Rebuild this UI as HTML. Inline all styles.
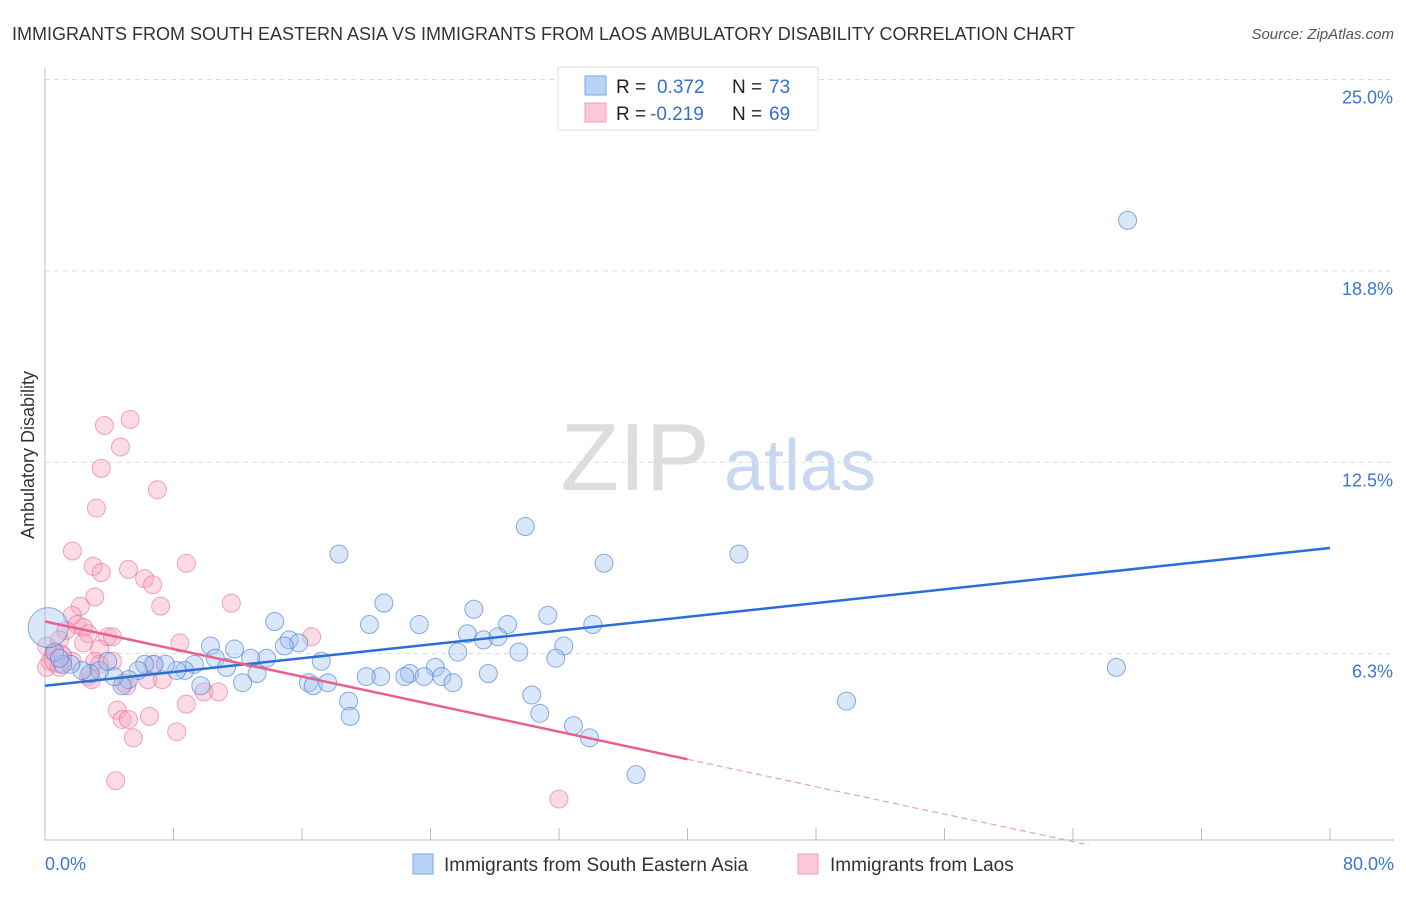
<!DOCTYPE html>
<html><head><meta charset="utf-8"><style>
body{margin:0;background:#fff;width:1406px;height:892px;overflow:hidden;font-family:"Liberation Sans",sans-serif}
svg text{font-family:"Liberation Sans",sans-serif}
</style></head><body>
<svg id="c" width="1406" height="892">
<text x="12" y="40" font-size="18" fill="#333">IMMIGRANTS FROM SOUTH EASTERN ASIA VS IMMIGRANTS FROM LAOS AMBULATORY DISABILITY CORRELATION CHART</text>
<text x="1394" y="39" font-size="15" fill="#555" font-style="italic" text-anchor="end">Source: ZipAtlas.com</text>
<text x="0" y="0" transform="translate(34,455) rotate(-90)" font-size="18" fill="#333" text-anchor="middle">Ambulatory Disability</text>
<g><text x="635" y="490" font-size="96" fill="#ddd" font-family="Liberation Serif" text-anchor="middle">ZIP</text><text x="800" y="490" font-size="72" fill="#c8d8f0" text-anchor="middle">atlas</text></g>
<g id="grid"></g><g id="axes"></g><g id="pts"></g><g id="lines"></g>
<g>
<rect x="558" y="67" width="260" height="63" fill="#fff" stroke="#ddd"/>
<rect x="585" y="76" width="21" height="19" fill="#b8d2f5" stroke="#7aa8e8"/>
<rect x="585" y="103" width="21" height="19" fill="#fcc8d8" stroke="#f0a0b8"/>
<text x="616" y="93" font-size="19" fill="#222">R = </text><text x="657" y="93" font-size="19" fill="#3370d0">0.372</text>
<text x="732" y="93" font-size="19" fill="#222">N = </text><text x="769" y="93" font-size="19" fill="#3370d0">73</text>
<text x="616" y="120" font-size="19" fill="#222">R = </text><text x="650" y="120" font-size="19" fill="#3370d0">-0.219</text>
<text x="732" y="120" font-size="19" fill="#222">N = </text><text x="769" y="120" font-size="19" fill="#3370d0">69</text>
</g>
<g>
<rect x="413" y="854" width="20" height="20" fill="#b8d2f5" stroke="#7aa8e8"/>
<text x="444" y="871" font-size="19" fill="#333">Immigrants from South Eastern Asia</text>
<rect x="798" y="854" width="20" height="20" fill="#fcc8d8" stroke="#f0a0b8"/>
<text x="830" y="871" font-size="19" fill="#333">Immigrants from Laos</text>
</g>
</svg>
<script>
const yTicks=[6.25,12.5,18.75,25.0];
const yTickLabels=["6.3%","12.5%","18.8%","25.0%"];
const xTicks=[0,8,16,24,32,40,48,56,64,72,80];
const blueX=[67.4,66.7,49.9,43.2,34.8,29.9,18.3,21.1,26.7,31.3,34.1,28.8,23.3,20.2,14.3,26.3,27.3,28.2,15.2,15.8,32.3,29.5,25.7,31.8,17.2,14.9,13.8,24.3,22.7,20.9,20.0,22.4,23.6,24.7,25.4,27.6,30.3,30.8,32.9,33.9,36.8,18.9,19.0,16.4,16.7,17.6,10.3,11.8,10.6,12.8,11.3,13.2,12.3,9.7,9.3,8.7,8.2,7.5,6.8,6.2,5.8,5.2,4.8,4.3,3.4,2.8,2.3,1.6,1.1,0.6,0.9,3.9,0.2];
const blueY=[20.4,5.8,4.7,9.5,9.2,10.4,9.5,7.9,7.7,7.5,7.2,7.2,7.2,7.2,7.3,6.9,6.7,6.8,6.7,6.6,6.5,6.3,6.3,6.1,6.0,6.5,6.1,5.8,5.6,5.5,5.5,5.5,5.5,5.5,5.3,5.6,4.9,4.3,3.9,3.5,2.3,4.7,4.2,5.3,5.2,5.3,6.5,6.4,6.1,6.1,5.8,5.6,5.3,5.2,5.9,5.7,5.7,5.9,5.9,5.9,5.7,5.4,5.2,5.5,5.7,5.6,5.7,5.9,5.9,6.3,6.1,6.0,7.1];
const pinkX=[5.3,3.7,4.7,3.5,7.0,3.2,1.7,3.0,3.5,5.2,6.2,6.7,8.8,3.1,2.2,7.2,11.6,1.7,2.0,2.4,1.3,3.9,4.2,2.7,8.4,16.6,3.4,2.4,0.9,0.6,0.3,0.1,1.1,3.1,4.2,1.7,0.9,4.9,2.7,3.4,7.3,9.9,10.8,8.8,5.1,4.5,4.8,5.2,6.5,5.5,8.2,4.4,32.0,6.7,2.9,0.1,6.4,0.8];
const pinkY=[13.9,13.7,13.0,12.3,11.6,11.0,9.6,9.1,8.9,9.0,8.7,8.5,9.2,8.1,7.8,7.8,7.9,7.5,7.2,7.1,7.0,6.8,6.8,6.9,6.6,6.8,6.4,6.6,6.7,6.3,6.0,5.8,6.2,6.0,6.0,6.0,5.8,5.3,5.5,5.9,5.4,5.0,5.0,4.6,5.2,4.4,4.1,4.1,4.2,3.5,3.7,2.1,1.5,5.9,5.4,6.5,5.4,6.1];
const blueLine=[[0,5.2],[80,9.7]];
const pinkLine=[[0,7.3],[40,2.8]];
const pinkDash=[[40,2.8],[65,0]];
const X=v=>45+v*1285/80, Y=v=>845-v*30.62;
const NS="http://www.w3.org/2000/svg";
function mk(p,t,a){const e=document.createElementNS(NS,t);for(const k in a)e.setAttribute(k,a[k]);document.getElementById(p).appendChild(e);return e;}
yTicks.forEach((t,i)=>{
 const g=mk('grid','line',{x1:45,x2:1394,y1:Y(t),y2:Y(t),stroke:'#ddd','stroke-dasharray':'5,4'});
 
 
 const l=mk('axes','text',{x:1393,y:Y(t)+24,'font-size':18,fill:'#3a78d0','text-anchor':'end'});l.textContent=yTickLabels[i];
 
 
});
const ax=mk('axes','line',{x1:45,x2:45,y1:68,y2:840,stroke:'#bbb'});


const bx=mk('axes','line',{x1:45,x2:1394,y1:840,y2:840,stroke:'#bbb'});


xTicks.forEach(t=>{const e=mk('axes','line',{x1:X(t),x2:X(t),y1:828,y2:840,stroke:'#bbb'});
 
 });
const xl0=mk('axes','text',{x:45,y:870,'font-size':18,fill:'#3a78d0'});xl0.textContent='0.0%';


const xl1=mk('axes','text',{x:1394,y:870,'font-size':18,fill:'#3a78d0','text-anchor':'end'});xl1.textContent='80.0%';


pinkX.forEach((v,i)=>{const r=(i===pinkX.length-1)?14:9;
 const c=mk('pts','circle',{cx:X(v),cy:Y(pinkY[i]),r:r,fill:'rgba(246,160,188,0.38)',stroke:'rgba(232,110,150,0.6)','stroke-width':1});
 
 });
blueX.forEach((v,i)=>{const r=(i===blueX.length-1)?20:9;
 const c=mk('pts','circle',{cx:X(v),cy:Y(blueY[i]),r:r,fill:'rgba(160,195,240,0.4)',stroke:'rgba(60,120,210,0.6)','stroke-width':1});
 
 });
const bl=mk('lines','line',{x1:X(blueLine[0][0]),y1:Y(blueLine[0][1]),x2:X(blueLine[1][0]),y2:Y(blueLine[1][1]),stroke:'#2a6fd6','stroke-width':2.5});


const pl=mk('lines','line',{x1:X(pinkLine[0][0]),y1:Y(pinkLine[0][1]),x2:X(pinkLine[1][0]),y2:Y(pinkLine[1][1]),stroke:'#e8608c','stroke-width':2.5});


const pd=mk('lines','line',{x1:X(pinkDash[0][0]),y1:Y(pinkDash[0][1]),x2:X(pinkDash[1][0]),y2:Y(pinkDash[1][1]),stroke:'#e8a0b8','stroke-width':1.2,'stroke-dasharray':'6,4'});


</script>
</body></html>
